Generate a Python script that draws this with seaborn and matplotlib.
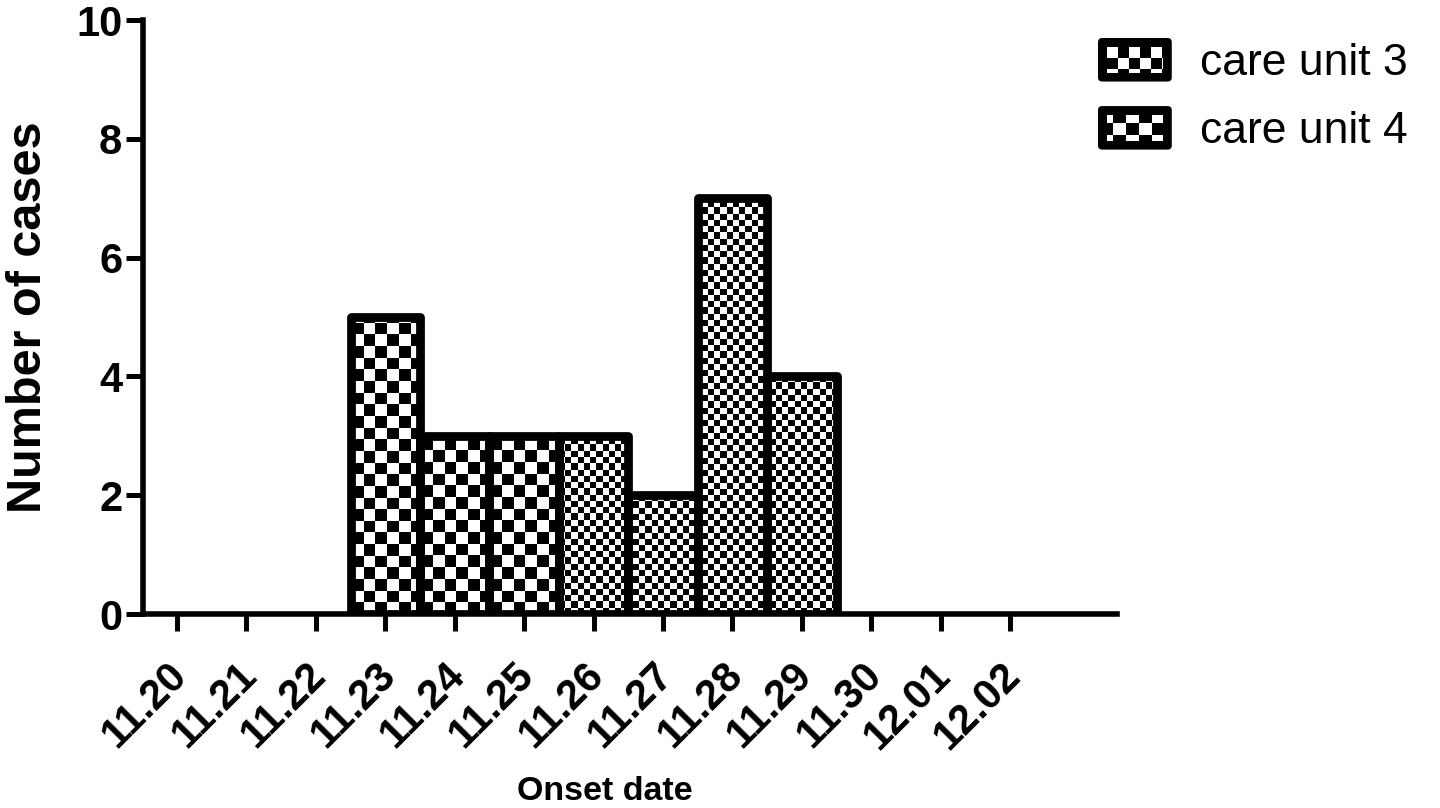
import numpy as np
import pandas as pd
import matplotlib
matplotlib.use("Agg")
import matplotlib.pyplot as plt
import matplotlib.transforms as mtrans
import seaborn as sns
from matplotlib.patches import Patch, FancyBboxPatch, Rectangle
from matplotlib.legend_handler import HandlerBase

# ---- data ----
dates = ["11.20", "11.21", "11.22", "11.23", "11.24", "11.25", "11.26",
         "11.27", "11.28", "11.29", "11.30", "12.01", "12.02"]
care_unit_3 = [0, 0, 0, 0, 0, 0, 3, 2, 7, 4, 0, 0, 0]
care_unit_4 = [0, 0, 0, 5, 3, 3, 0, 0, 0, 0, 0, 0, 0]
series_names = ["care unit 3", "care unit 4"]
y_ticks = [0, 2, 4, 6, 8, 10]

sns.set_theme(style="white")
plt.rcParams["font.family"] = ["Liberation Sans", "DejaVu Sans"]

W, H, DPI = 1440, 808, 100
PT = 72 / DPI  # points per pixel
fig = plt.figure(figsize=(W / DPI, H / DPI), dpi=DPI)
ax_rect = [143 / W, 1 - 614 / H, (1117 - 143) / W, (614 - 20) / H]
ax = fig.add_axes(ax_rect)

df = pd.DataFrame({
    "date": dates * 2,
    "unit": [n for n in series_names for _ in dates],
    "cases": care_unit_3 + care_unit_4,
})
df = df[df["cases"] > 0]

sns.barplot(data=df, x="date", y="cases", hue="unit", order=dates,
            hue_order=series_names, dodge=False, width=1.0,
            palette=["white", "white"], saturation=1, edgecolor="black",
            linewidth=6.3, legend=False, ax=ax)

xlim = (-0.49, 13.54)
ylim = (0, 10)


def checker(nx, ny):
    yy, xx = np.mgrid[0:ny, 0:nx]
    return ((xx + yy) % 2).astype(float)


axes_w_px = ax_rect[2] * W
axes_h_px = ax_rect[3] * H
cells = {0: 6.2, 1: 11.5}  # checker cell size in pixels per series
for i, cont in enumerate(ax.containers):
    c = cells[i]
    arr = checker(int(axes_w_px / c), int(axes_h_px / c))
    for p in cont:
        if p.get_height() <= 0:
            continue
        p.set_facecolor("none")
        p.set_joinstyle("round")
        img = ax.imshow(arr, extent=(xlim[0], xlim[1], ylim[0], ylim[1]),
                        aspect="auto", cmap="gray", vmin=0, vmax=1,
                        interpolation="nearest", zorder=p.get_zorder() - 0.5)
        img.set_clip_path(p)

ax.set_xlim(*xlim)
ax.set_ylim(*ylim)
ax.set_yticks(y_ticks)
ax.set_yticklabels([str(t) for t in y_ticks])

sns.despine(ax=ax)
for s in ["left", "bottom"]:
    ax.spines[s].set_linewidth(4)
    ax.spines[s].set_color("black")

ax.tick_params(axis="both", which="major", direction="out", length=12,
               width=3.6, color="black", labelsize=30, bottom=True, left=True,
               labelcolor="black")
ax.tick_params(axis="y", pad=3)
ax.tick_params(axis="x", pad=28)
shift = mtrans.ScaledTranslation(4 / DPI, 0, fig.dpi_scale_trans)
for lbl in ax.get_yticklabels():
    lbl.set_fontweight("bold")
for lbl in ax.get_xticklabels():
    lbl.set_fontweight("bold")
    lbl.set_rotation(45)
    lbl.set_ha("right")
    lbl.set_va("center")
    lbl.set_rotation_mode("anchor")
    lbl.set_transform(lbl.get_transform() + shift)

ax.set_ylabel("Number of cases", fontsize=35, fontweight="bold",
              color="black", labelpad=18)
ax.set_xlabel("Onset date", fontsize=24.5, fontweight="bold", color="black")
ax.xaxis.set_label_coords(0.474, -0.272)


class CheckerHandler(HandlerBase):
    """Black rounded box with a checkerboard inset (sizes in pixels)."""

    def __init__(self, cell_w, cell_h, phase_x=0.0, phase_y=0.0, inset=9.0):
        super().__init__()
        self.cw, self.ch = cell_w * PT, cell_h * PT
        self.px, self.py = phase_x * PT, phase_y * PT
        self.ins = inset * PT

    def create_artists(self, legend, orig_handle, xdescent, ydescent,
                       width, height, fontsize, trans):
        x0, y0 = -xdescent, -ydescent
        arts = [FancyBboxPatch((x0, y0), width, height,
                               boxstyle="round,pad=0,rounding_size=3",
                               facecolor="black", edgecolor="none",
                               linewidth=0, transform=trans)]
        ix0, ix1 = x0 + self.ins, x0 + width - self.ins
        iy1, iy0 = y0 + height - self.ins, y0 + self.ins
        j = 0
        top = iy1 + self.py
        while top > iy0:
            bot = top - self.ch
            i = 0
            left = ix0 - self.px
            while left < ix1:
                right = left + self.cw
                if (i + j) % 2 == 0:
                    l, r = max(left, ix0), min(right, ix1)
                    b, t = max(bot, iy0), min(top, iy1)
                    if r > l and t > b:
                        arts.append(Rectangle((l, b), r - l, t - b,
                                              facecolor="white",
                                              edgecolor="none", linewidth=0,
                                              transform=trans))
                left = right
                i += 1
            top = bot
            j += 1
        return arts


handles = [Patch(facecolor="black", label=n) for n in series_names]
handler_map = {handles[0]: CheckerHandler(11, 11),
               handles[1]: CheckerHandler(13, 12, phase_x=7, phase_y=4)}
fig.legend(handles, series_names, loc="upper left",
           bbox_to_anchor=(1098 / W, 1 - 38 / H), frameon=False, fontsize=32,
           handlelength=1.66, handleheight=1.13, handletextpad=0.64,
           labelspacing=0.5, borderpad=0, borderaxespad=0,
           handler_map=handler_map, labelcolor="black")

fig.savefig("out.png", dpi=DPI)
